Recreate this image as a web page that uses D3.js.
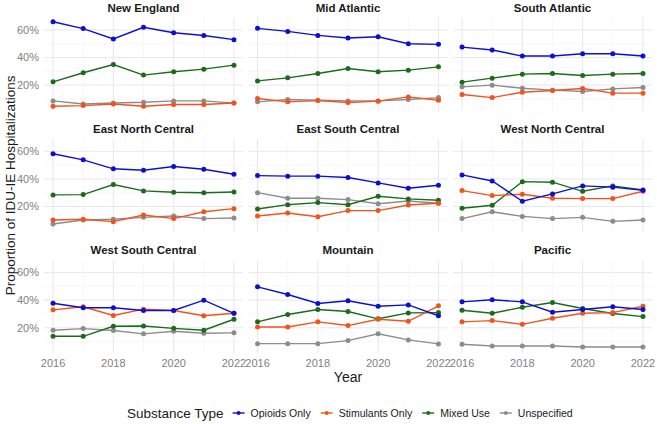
<!DOCTYPE html>
<html>
<head>
<meta charset="utf-8">
<script src="https://cdn.jsdelivr.net/npm/d3@7"></script>
<style>
  body { margin: 0; background: #fff; }
  svg { display: block; font-family: "Liberation Sans", Arial, sans-serif; }
</style>
</head>
<body>
<div id="chart"></div>
<script>
const years = [2016, 2017, 2018, 2019, 2020, 2021, 2022]
const regions = ["New England", "Mid Atlantic", "South Atlantic",
  "East North Central", "East South Central", "West North Central",
  "West South Central", "Mountain", "Pacific"]
const seriesNames = ["Opioids Only", "Stimulants Only", "Mixed Use", "Unspecified"]
const seriesColors = ["#0e0ed0", "#f0541e", "#1b6b1b", "#8c8c8c"]
const yTicks = [20, 40, 60]

// percent values per region, years 2016..2022
const opioids = [
  [66, 61, 53.5, 62, 58, 56, 53],
  [61.2, 59, 56.1, 54.2, 55.1, 50, 49.6],
  [47.6, 45.5, 41.1, 41.1, 42.8, 42.8, 41.1],
  [58.2, 53.8, 47.3, 46.3, 49, 47, 43.4],
  [42.4, 42, 42, 41, 37.1, 33.2, 35.4],
  [42.9, 38.5, 23.8, 29.1, 34.9, 34, 31.8],
  [37.8, 34.5, 34.5, 32.5, 32.5, 40, 30.5],
  [49.7, 44.1, 37.6, 39.6, 35.6, 36.6, 28.7],
  [38.8, 40.3, 38.8, 31.3, 33.2, 35.2, 33.2]
]
const stimulants = [
  [4.7, 5.2, 6.4, 4.7, 6, 6, 7.1],
  [10.3, 7.9, 8.8, 7.4, 8.4, 11.5, 9.1],
  [13.2, 11, 14.9, 16.1, 17.6, 14.2, 14.2],
  [10.2, 10.7, 9, 13.8, 11.2, 16.2, 18.4],
  [13.1, 15.3, 12.6, 17, 17, 21.1, 22.3],
  [31.5, 27.9, 28.9, 26, 25.7, 25.7, 31],
  [33, 35.2, 28.9, 33.5, 32.5, 28.7, 30.5],
  [20.6, 20.6, 24.3, 21.6, 26.2, 24.7, 35.9],
  [24.3, 25.2, 22.5, 26.9, 30.5, 31, 35.6]
]
const mixed = [
  [22.4, 29, 35, 27.3, 29.7, 31.6, 34.5],
  [23.1, 25.3, 28.5, 32.1, 29.7, 30.9, 33.3],
  [22.2, 25.1, 28, 28.5, 27, 28, 28.5],
  [28.4, 28.6, 35.9, 31.3, 30.3, 30, 30.5],
  [18.2, 21.3, 22.8, 21.3, 27.4, 25.5, 24.5],
  [18.7, 20.9, 38, 37.6, 31, 34.9, 32],
  [13.8, 13.8, 21.1, 21.3, 19.6, 18.2, 26.2],
  [24.3, 29.6, 33.2, 31.8, 26.5, 30.8, 31],
  [32.7, 30.5, 34.9, 38.3, 34, 30.3, 28.1]
]
const unspecified = [
  [8.6, 6.4, 7.1, 7.6, 8.6, 8.6, 7],
  [7.9, 9.6, 9.1, 8.6, 8.6, 9.6, 11],
  [18.8, 20, 17.8, 16.4, 15.4, 17.3, 18.3],
  [7.3, 10.2, 10.7, 12.1, 13.1, 11.2, 11.6],
  [30, 26, 26, 25, 22, 24, 22.3],
  [11.2, 16.2, 12.8, 11.2, 12.1, 9.2, 10.2],
  [18.2, 19.4, 18, 15.6, 17.5, 16, 16.3],
  [8.5, 8.5, 8.5, 10.7, 15.6, 11.2, 8.3],
  [8, 6.8, 6.8, 6.8, 6.1, 6.1, 6.1]
]
const seriesValues = [opioids, stimulants, mixed, unspecified]

const W = 657, H = 424
const left = 44, panelW = 199, gapX = 5.5
const top0 = 17.5, panelH = 93, gapY = 28.3

const svg = d3.select("#chart").append("svg")
  .attr("width", W).attr("height", H)

// shared y scale with ggplot-like 5% expansion
const all = seriesValues.flat(2)
const lo = d3.min(all), hi = d3.max(all)
const pad = (hi - lo) * 0.05
const y = d3.scaleLinear().domain([lo - pad, hi + pad]).range([panelH, 0])
const x = d3.scaleLinear().domain([2016 - 0.3, 2022 + 0.3]).range([0, panelW])

regions.forEach((region, i) => {
  const col = i % 3, row = Math.floor(i / 3)
  const g = svg.append("g")
    .attr("transform", `translate(${left + col * (panelW + gapX)},${top0 + row * (panelH + gapY)})`)

  // grid
  const minorY = [10, 30, 50].filter(v => v > y.domain()[0] && v < y.domain()[1])
  g.selectAll(".gyminor").data(minorY).join("line")
    .attr("x1", 0).attr("x2", panelW)
    .attr("y1", d => y(d)).attr("y2", d => y(d))
    .attr("stroke", "#f2f2f2").attr("stroke-width", 0.6)
  g.selectAll(".gy").data(yTicks).join("line")
    .attr("x1", 0).attr("x2", panelW)
    .attr("y1", d => y(d)).attr("y2", d => y(d))
    .attr("stroke", "#e8e8e8").attr("stroke-width", 1)
  g.selectAll(".gx").data(years).join("line")
    .attr("y1", 0).attr("y2", panelH)
    .attr("x1", d => x(d)).attr("x2", d => x(d))
    .attr("stroke", d => d % 2 === 0 ? "#e8e8e8" : "#f2f2f2")
    .attr("stroke-width", d => d % 2 === 0 ? 1 : 0.6)

  // strip title
  g.append("text")
    .attr("x", panelW / 2).attr("y", -6)
    .attr("text-anchor", "middle")
    .style("font-size", "11.5px").style("font-weight", "bold")
    .style("fill", "#1a1a1a")
    .text(region)

  // y tick labels on first column
  if (col === 0) {
    g.selectAll(".yl").data(yTicks).join("text")
      .attr("x", -5).attr("y", d => y(d)).attr("dy", "0.35em")
      .attr("text-anchor", "end")
      .style("font-size", "11px").style("fill", "#7f7f7f")
      .text(d => d + "%")
  }
  // x tick labels on bottom row
  if (row === 2) {
    g.selectAll(".xl").data(years.filter(d => d % 2 === 0)).join("text")
      .attr("x", d => x(d)).attr("y", panelH + 14)
      .attr("text-anchor", "middle")
      .style("font-size", "11px").style("fill", "#7f7f7f")
      .text(d => d)
  }

  const line = d3.line().x((d, j) => x(years[j])).y(d => y(d))
  // draw in reverse so opioids sit on top
  seriesValues.map((s, k) => k).reverse().forEach(k => {
    const vals = seriesValues[k][i]
    g.append("path").datum(vals)
      .attr("d", line).attr("fill", "none")
      .attr("stroke", seriesColors[k]).attr("stroke-width", 1.4)
    g.selectAll(null).data(vals).join("circle")
      .attr("cx", (d, j) => x(years[j])).attr("cy", d => y(d))
      .attr("r", 2.5).attr("fill", seriesColors[k])
  })
})

// axis titles
const plotMid = left + (3 * panelW + 2 * gapX) / 2
svg.append("text")
  .attr("x", plotMid).attr("y", 382)
  .attr("text-anchor", "middle")
  .style("font-size", "14px").style("fill", "#1a1a1a")
  .text("Year")
svg.append("text")
  .attr("transform", `translate(15,${top0 + (3 * panelH + 2 * gapY) / 2}) rotate(-90)`)
  .attr("text-anchor", "middle")
  .style("font-size", "13.5px").style("fill", "#1a1a1a")
  .text("Proportion of IDU-IE Hospitalizations")

// legend
const legY = 413
const leg = svg.append("g")
const title = leg.append("text")
  .attr("x", 127).attr("y", legY).attr("dy", "0.35em")
  .style("font-size", "13.5px").style("fill", "#1a1a1a")
  .text("Substance Type")
let lx = 127 + title.node().getComputedTextLength() + 9
seriesNames.forEach((name, k) => {
  leg.append("line")
    .attr("x1", lx).attr("x2", lx + 12)
    .attr("y1", legY).attr("y2", legY)
    .attr("stroke", seriesColors[k]).attr("stroke-width", 1.4)
  leg.append("circle")
    .attr("cx", lx + 6).attr("cy", legY).attr("r", 2)
    .attr("fill", seriesColors[k])
  const t = leg.append("text")
    .attr("x", lx + 18).attr("y", legY).attr("dy", "0.35em")
    .style("font-size", "10.5px").style("fill", "#1a1a1a")
    .text(name)
  lx += 18 + t.node().getComputedTextLength() + 10
})
</script>
</body>
</html>
